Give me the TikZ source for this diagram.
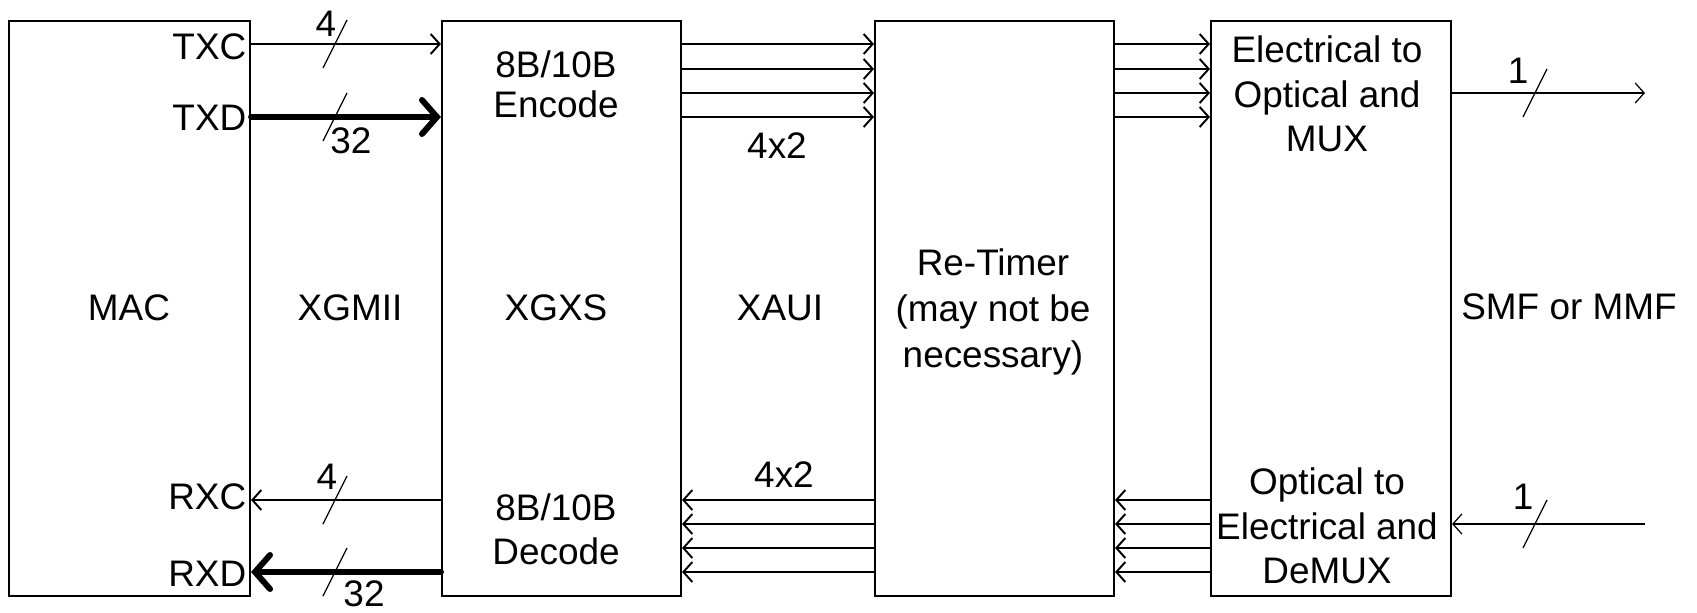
\documentclass[tikz,border=0pt]{standalone}
\usepackage{fontspec}
\setmainfont{Liberation Sans}
\usepackage{tikz}
\usetikzlibrary{positioning,arrows.meta}

\tikzset{
  blk/.style={draw, line width=0.55pt, minimum width=2.39cm, minimum height=5.75cm, inner sep=0pt},
  txt/.style={font=\fontsize{10.5}{12.6}\selectfont, align=center, inner sep=0pt},
  bus/.style={line width=0.55pt, -{Straight Barb[length=0.09cm,width=0.2cm]}},
  fatbus/.style={line width=1.7pt, line cap=round, -{Straight Barb[length=0.15cm,width=0.34cm,line cap=round]}},
  fiber/.style={line width=0.35pt, -{Straight Barb[length=0.09cm,width=0.2cm]}},
  slash/.style={line width=0.35pt},
}

\begin{document}
\begin{tikzpicture}[x=0.01cm, y=-0.01cm]
\useasboundingbox (0,0) rectangle (1697,612);

% Blocks
\node[blk, minimum width=2.41cm] (mac) at (129.5,308.5) {};
\node[blk] (xgxs) at (561.5,308.5) {};
\node[blk] (retimer) at (994.5,308.5) {};
\node[blk, minimum width=2.4cm] (eo) at (1331,308.5) {};

% Block texts
\node[txt] (maclbl) at (129,308) {MAC};
\node[txt] (xgmii) at (350,308) {XGMII};
\node[txt] (xgxslbl) at (556,308) {XGXS};
\node[txt] (xaui) at (780,308) {XAUI};
\node[txt, font=\fontsize{10.5}{13.2}\selectfont] (rtlbl) at (993,312) {Re-Timer\\(may not be\\necessary)};
\node[txt] (smf) at (1569,307) {SMF or MMF};
\node[txt, font=\fontsize{10.5}{11.4}\selectfont] (enc) at (556,84) {8B/10B\\Encode};
\node[txt] (dec) at (556,529) {8B/10B\\Decode};
\node[txt] (mux) at (1327,94) {Electrical to\\Optical and\\MUX};
\node[txt] (demux) at (1327,526) {Optical to\\Electrical and\\DeMUX};

% Signal names
\node[txt, anchor=east] (txc) at (247,47) {TXC};
\node[txt, anchor=east] (txd) at (247,118) {TXD};
\node[txt, anchor=east] (rxc) at (247,497) {RXC};
\node[txt, anchor=east] (rxd) at (247,574) {RXD};

% Rows
\foreach \n/\y in {t1/44,t2/69,t3/93,t4/117,b1/500,b2/524,b3/548,b4/572}
  \coordinate (\n) at (0,\y);
\coordinate (fout) at (1645,93);
\coordinate (fin) at (1645,524);

% XGMII
\draw[bus] (mac.east |- t1) -- (xgxs.west |- t1);
\draw[fatbus] (mac.east |- t4) -- (xgxs.west |- t4);
\draw[bus] (xgxs.west |- b1) -- (mac.east |- b1);
\draw[fatbus] (xgxs.west |- b4) -- (mac.east |- b4);

% XAUI lanes
\foreach \r in {t1,t2,t3,t4} {
  \draw[bus] (xgxs.east |- \r) -- (retimer.west |- \r);
  \draw[bus] (retimer.east |- \r) -- (eo.west |- \r);
}
\foreach \r in {b1,b2,b3,b4} {
  \draw[bus] (retimer.west |- \r) -- (xgxs.east |- \r);
  \draw[bus] (eo.west |- \r) -- (retimer.east |- \r);
}

% Fiber
\draw[fiber] (eo.east |- t3) -- (fout);
\draw[fiber] (fin) -- (eo.east |- b2);

% Bus widths
\foreach \x/\y in {335/44, 335/117, 335/500, 335/572, 1535/93, 1535/524}
  \draw[slash] (\x-12,\y+24) -- (\x+12,\y-24);
\node[txt] (w1) at (326,24) {4};
\node[txt] (w2) at (351,141) {32};
\node[txt] (w3) at (327,477) {4};
\node[txt] (w4) at (364,594) {32};
\node[txt] (w5) at (1518,71) {1};
\node[txt] (w6) at (1523,497) {1};
\node[txt] (w7) at (777,146) {4x2};
\node[txt] (w8) at (784,475) {4x2};
\end{tikzpicture}
\end{document}
